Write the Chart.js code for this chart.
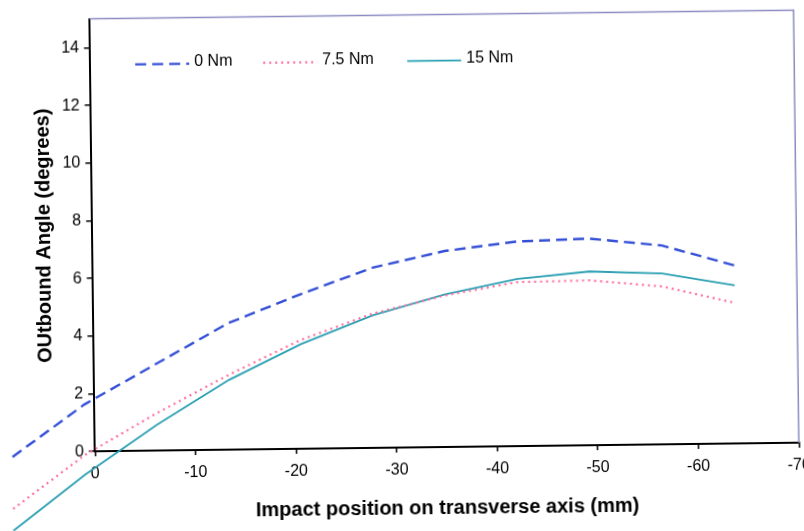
<!DOCTYPE html>
<html>
<head>
<meta charset="utf-8">
<script src="https://cdn.jsdelivr.net/npm/chart.js@4.4.1/dist/chart.umd.min.js"></script>
<style>
  html,body{margin:0;padding:0;background:#fff;overflow:hidden;}
  /* la hoja escaneada quedo un poco torcida */
  #grafico{display:block;transform-origin:444px 230px;transform:rotate(-0.7deg);}
</style>
</head>
<body>
<canvas id="grafico" width="804" height="531"></canvas>
<script>
// posicion del impacto (mm) y angulo de salida (grados) para cada torque
const posicion  = [8.2, 1.0, -6.2, -13.4, -20.6, -27.8, -35.0, -42.2, -49.4, -56.6, -63.8]
const angulo0   = [-0.16, 1.63, 3.01, 4.39, 5.36, 6.25, 6.80, 7.10, 7.17, 6.90, 6.18]
const angulo75  = [-1.96, -0.12, 1.30, 2.60, 3.78, 4.66, 5.26, 5.69, 5.72, 5.48, 4.88]
const angulo15  = [-2.72, -0.80, 0.90, 2.42, 3.63, 4.60, 5.30, 5.80, 6.03, 5.93, 5.49]
const etiquetas = ['0 Nm', '7.5 Nm', '15 Nm']
const ticksX    = [0, -10, -20, -30, -40, -50, -60, -70]
const ticksY    = [0, 2, 4, 6, 8, 10, 12, 14]

const fuente = '"Liberation Sans", Arial, sans-serif'
const ctx = document.getElementById('grafico')

const puntos = (ys) => posicion.map((x, i) => ({x: x, y: ys[i]}))

// separacion de cada muestra de la leyenda desde el borde izquierdo
const posLeyenda = [45, 173, 317]

// marco de arriba/derecha y la leyenda dentro del area
const marcoYLeyenda = {
  id: 'marcoYLeyenda',
  afterDraw(chart) {
    const {ctx, chartArea: {left, top, right, bottom}} = chart
    ctx.save()
    ctx.strokeStyle = '#8a8cc2'
    ctx.lineWidth = 1.5
    ctx.beginPath()
    ctx.moveTo(left, top)
    ctx.lineTo(right, top)
    ctx.lineTo(right, bottom)
    ctx.stroke()

    ctx.font = '16px ' + fuente
    ctx.textBaseline = 'middle'
    ctx.textAlign = 'left'
    chart.data.datasets.forEach((ds, i) => {
      const x = left + posLeyenda[i]
      ctx.strokeStyle = ds.borderColor
      ctx.lineWidth = ds.borderWidth
      ctx.setLineDash(ds.borderDash || [])
      ctx.beginPath()
      ctx.moveTo(x, top + 46)
      ctx.lineTo(x + 54, top + 46)
      ctx.stroke()
      ctx.setLineDash([])
      ctx.fillStyle = '#000'
      ctx.fillText(ds.label, x + 59, top + 44)
    })
    ctx.restore()
  }
}

const myChart = new Chart(ctx, {
  type: 'line',
  data: {
    datasets: [
      {label: etiquetas[0], data: puntos(angulo0), borderColor: '#3550d6', borderWidth: 2.4, borderDash: [11, 6], pointRadius: 0, tension: 0, clip: false},
      {label: etiquetas[1], data: puntos(angulo75), borderColor: '#ff6d9e', borderWidth: 2.2, borderDash: [2, 4], pointRadius: 0, tension: 0, clip: false},
      {label: etiquetas[2], data: puntos(angulo15), borderColor: '#2a9fb2', borderWidth: 1.8, pointRadius: 0, tension: 0, clip: false}
    ]
  },
  options: {
    responsive: false,
    animation: false,
    devicePixelRatio: 1,
    layout: {padding: {left: 0, top: 13.7, right: 7.75, bottom: 0}},
    plugins: {legend: {display: false}, tooltip: {enabled: false}},
    scales: {
      x: {
        type: 'linear',
        min: -70,
        max: 0,
        reverse: true,
        afterBuildTicks: (s) => { s.ticks = ticksX.map(v => ({value: v})) },
        afterFit: (s) => { s.height = 83.9; s.paddingLeft = 0; s.paddingRight = 0 },
        border: {color: '#000', width: 2},
        grid: {drawOnChartArea: false, drawTicks: true, tickLength: 5, color: '#000', lineWidth: 1.5},
        ticks: {color: '#000', padding: 8, maxRotation: 0, autoSkip: false, font: {family: fuente, size: 16}},
        title: {display: true, text: 'Impact position on transverse axis (mm)', color: '#000', padding: {top: 0, bottom: 11}, font: {family: fuente, size: 20, weight: 'bold'}}
      },
      y: {
        min: 0,
        max: 15,
        afterBuildTicks: (s) => { s.ticks = ticksY.map(v => ({value: v})) },
        afterFit: (s) => { s.width = 92.25 },
        border: {color: '#000', width: 2},
        grid: {drawOnChartArea: false, drawTicks: true, tickLength: 6, color: '#000', lineWidth: 1.5},
        ticks: {color: '#000', padding: 5, font: {family: fuente, size: 16}},
        title: {display: true, text: 'OUtbound Angle (degrees)', color: '#000', padding: {top: 32, bottom: 0}, font: {family: fuente, size: 20, weight: 'bold'}}
      }
    }
  },
  plugins: [marcoYLeyenda]
})
</script>
</body>
</html>
